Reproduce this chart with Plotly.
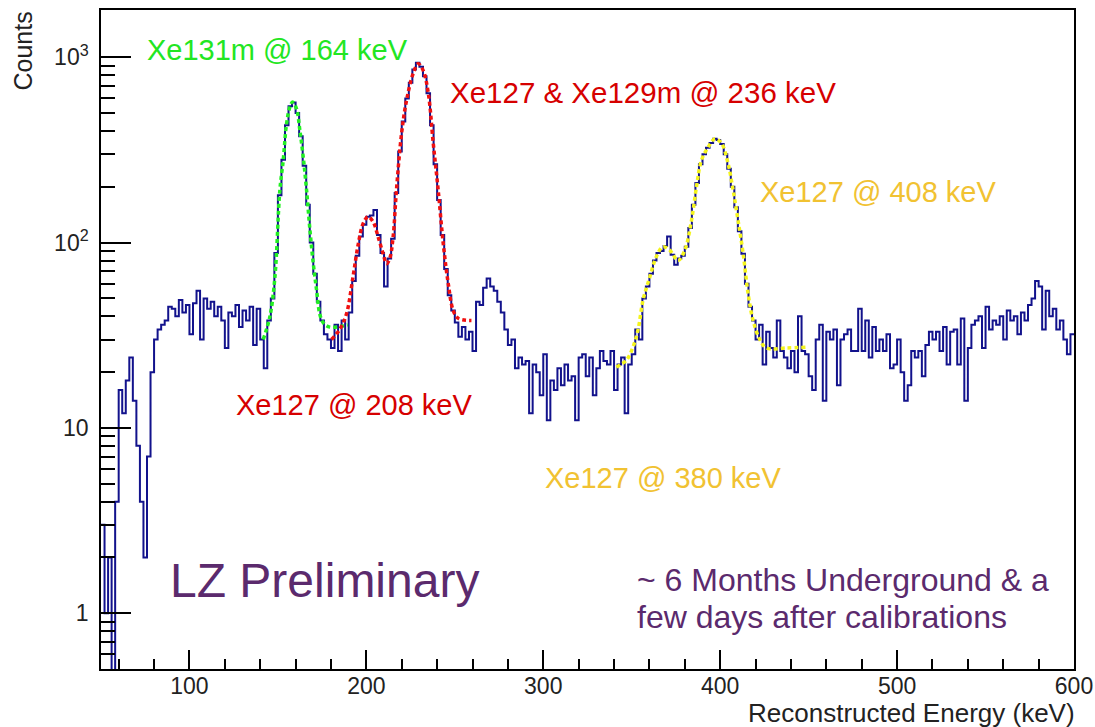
import numpy as np
import plotly.graph_objects as go

# ---------------- data ----------------
# Histogram: 2 keV bins from 50 keV to 600 keV (counts per bin)
bin_width = 2.0
energy_min, energy_max = 50.0, 600.0
counts = [
    3, 1, 2, 0, 4, 16, 12, 18, 24, 14,            # 50-68
    8, 4, 2, 7, 20, 30, 34, 36, 38, 45,           # 70-88
    44, 40, 49, 42, 46, 32, 47, 55, 30, 50,       # 90-108
    44, 48, 40, 45, 38, 27, 42, 40, 46, 35,       # 110-128
    43, 38, 45, 28, 44, 30, 21, 38, 50, 88,       # 130-148
    180, 280, 430, 545, 570, 500, 375, 260, 160, 100,   # 150-168
    68, 48, 38, 32, 30, 27, 36, 26, 38, 30,       # 170-188
    42, 62, 85, 108, 125, 138, 140, 150, 110, 88, # 190-208
    58, 82, 105, 185, 310, 450, 600, 730, 860, 935,     # 210-228
    890, 790, 640, 430, 265, 170, 110, 72, 52, 43,      # 230-248
    37, 31, 35, 30, 33, 26, 48, 46, 57, 64,       # 250-268
    58, 55, 48, 42, 34, 28, 30, 21, 24, 22,       # 270-288
    23, 12, 22, 20, 15, 25, 11, 18, 16, 21,       # 290-308
    17, 22, 18, 19, 11, 24, 25, 19, 24, 15,       # 310-328
    21, 26, 23, 22, 26, 16, 22, 24, 12, 22,       # 330-348
    25, 34, 30, 50, 58, 68, 80, 88, 90, 96,       # 350-368
    108, 86, 76, 82, 85, 95, 120, 160, 210, 265,  # 370-388
    300, 325, 345, 363, 358, 340, 300, 250, 200, 155,   # 390-408
    115, 87, 60, 45, 38, 30, 36, 22, 33, 27,      # 410-428
    24, 38, 26, 24, 21, 26, 20, 40, 26, 25,       # 430-448
    19, 16, 30, 36, 14, 33, 30, 34, 17, 30,       # 450-468
    32, 34, 26, 26, 44, 26, 38, 24, 35, 26,       # 470-488
    30, 26, 32, 21, 22, 30, 20, 14, 17, 26,       # 490-508
    24, 26, 19, 28, 33, 30, 33, 26, 35, 22,       # 510-528
    33, 34, 22, 39, 14, 27, 36, 38, 40, 27,       # 530-548
    45, 34, 38, 36, 40, 30, 43, 38, 40, 32,       # 550-568
    42, 38, 46, 50, 62, 58, 34, 55, 40, 44,       # 570-588
    34, 38, 30, 25, 32,                           # 590-598
]

# Fitted peak models, sampled along the fit curves (energy in keV, counts)
fit_xe131m_e = [141.7, 145.5, 148.3, 151.1, 153.0, 154.9, 156.8, 158.3, 160.5,
                162.4, 164.3, 166.2, 168.1, 170.0, 171.9, 173.7, 175.6, 179.4, 189.5]
fit_xe131m_c = [30, 40, 65, 192, 278, 439, 540, 574, 529,
                404, 290, 192, 117, 77, 55, 41, 37, 35, 36]

fit_xe127_236_e = [180.3, 184.9, 188.7, 192.4, 195.4, 198.2, 201.0, 203.9, 206.7,
                   209.5, 211.4, 213.2, 215.1, 217.0, 219.9, 222.7, 226.5, 229.3,
                   232.1, 235.0, 237.8, 240.6, 243.5, 246.3, 249.1, 252.0, 259.4]
fit_xe127_236_c = [30, 34, 41, 65, 98, 127, 138, 129, 107,
                   87, 77, 82, 107, 192, 388, 585, 820, 923,
                   850, 640, 344, 192, 98, 60, 43, 39, 38]

fit_xe127_408_e = [341.3, 347.0, 350.7, 353.5, 356.4, 360.2, 363.9, 367.7, 371.5,
                   376.2, 380.0, 383.8, 386.6, 389.4, 393.2, 397.0, 400.7, 404.5,
                   407.3, 410.1, 413.0, 415.8, 418.6, 422.4, 426.1, 437.5, 449.4]
fit_xe127_408_c = [21.3, 23.2, 27.3, 33.6, 49, 65, 84, 95, 91,
                   80, 91, 132, 200, 278, 327, 363, 344, 266,
                   192, 132, 87, 53, 38, 30, 27, 27, 27.3]

y_tick_vals = [1, 10, 100, 1000]
y_tick_text = ["1", "10", "10<sup>2</sup>", "10<sup>3</sup>"]
x_tick_vals = [100, 200, 300, 400, 500, 600]

# ---------------- figure ----------------
W, H = 1095, 727
ML, MR, MT, MB = 101, 21, 10, 58
PW, PH = W - ML - MR, H - MT - MB


def px(x, y):
    """Pixel position -> paper coordinates."""
    return (x - ML) / PW, (H - MB - y) / PH


edges = np.arange(energy_min, energy_max + bin_width / 2, bin_width)
vals = np.asarray(counts, dtype=float)
assert len(vals) == len(edges) - 1
# empty bins fall below the visible log range
vals_plot = np.where(vals > 0, vals, 1e-3)
step_x = edges
step_y = np.append(vals_plot, vals_plot[-1])

FONT = "Liberation Sans, Arial, Helvetica, sans-serif"

fig = go.Figure()
fig.add_trace(go.Scatter(
    x=step_x, y=step_y, mode="lines", line_shape="hv",
    line=dict(color="#12128c", width=2), hoverinfo="skip", showlegend=False))

for fx, fy, col in [
    (fit_xe131m_e, fit_xe131m_c, "#22f022"),
    (fit_xe127_236_e, fit_xe127_236_c, "#f01010"),
    (fit_xe127_408_e, fit_xe127_408_c, "#f4f41c"),
]:
    fig.add_trace(go.Scatter(
        x=fx, y=fy, mode="lines", line_shape="spline",
        line=dict(color=col, width=3.5, dash="4px,3px"),
        hoverinfo="skip", showlegend=False))

fig.update_layout(
    width=W, height=H,
    margin=dict(l=ML, r=MR, t=MT, b=MB, pad=0, autoexpand=False),
    paper_bgcolor="white", plot_bgcolor="white",
    font=dict(family=FONT, color="#222222"),
    showlegend=False,
)

fig.update_xaxes(
    range=[energy_min, energy_max], automargin=False,
    showline=True, linecolor="black", linewidth=1.5, mirror=True,
    showgrid=False, zeroline=False,
    tickmode="array", tickvals=x_tick_vals,
    ticks="inside", ticklen=19, tickwidth=1.5, tickcolor="black",
    ticklabelstandoff=-4,
    tickfont=dict(size=23, family=FONT, color="#222222"),
    minor=dict(dtick=20, tick0=0, ticks="inside", ticklen=10,
               tickwidth=1.5, tickcolor="black", showgrid=False),
)

fig.update_yaxes(
    type="log", range=[np.log10(0.5), np.log10(1800)], automargin=False,
    showline=True, linecolor="black", linewidth=1.5, mirror=True,
    showgrid=False, zeroline=False,
    tickmode="array", tickvals=y_tick_vals, ticktext=y_tick_text,
    ticks="inside", ticklen=30, tickwidth=1.5, tickcolor="black",
    ticklabelstandoff=6,
    tickfont=dict(size=23, family=FONT, color="#222222"),
    minor=dict(tickvals=[0.6, 0.7, 0.8, 0.9] + list(range(2, 10))
               + list(range(20, 100, 10)) + list(range(200, 1000, 100)),
               ticks="inside", ticklen=14, tickwidth=1.5, tickcolor="black",
               showgrid=False),
)


def label(text, left, cy, color, size):
    x, y = px(left, cy)
    fig.add_annotation(x=x, y=y, xref="paper", yref="paper", text=text,
                       showarrow=False, xanchor="left", yanchor="middle",
                       font=dict(family=FONT, size=size, color=color))


GREEN, RED, GOLD, PURPLE = "#22e622", "#d60000", "#f1c232", "#5b2a6d"
label("Xe131m @ 164 keV", 145, 50, GREEN, 29)
label("Xe127 &amp; Xe129m @ 236 keV", 448, 93, RED, 29.5)
label("Xe127 @ 408 keV", 758, 192, GOLD, 29)
label("Xe127 @ 208 keV", 234, 405, RED, 29)
label("Xe127 @ 380 keV", 543, 478, GOLD, 29)
label("LZ Preliminary", 168, 580, PURPLE, 48)
label("~ 6 Months Underground &amp; a", 635, 580, PURPLE, 32)
label("few days after calibrations", 635, 617, PURPLE, 32)

# axis titles
x, y = px(22, 10)
fig.add_annotation(x=x, y=1, xref="paper", yref="paper", text="Counts",
                   textangle=-90, showarrow=False, xanchor="center",
                   yanchor="top", font=dict(family=FONT, size=25, color="#222222"))
x, y = px(1077, 713)
fig.add_annotation(x=x, y=y, xref="paper", yref="paper",
                   text="Reconstructed Energy (keV)", showarrow=False,
                   xanchor="right", yanchor="middle",
                   font=dict(family=FONT, size=26, color="#222222"))

fig.write_html("out.html")
